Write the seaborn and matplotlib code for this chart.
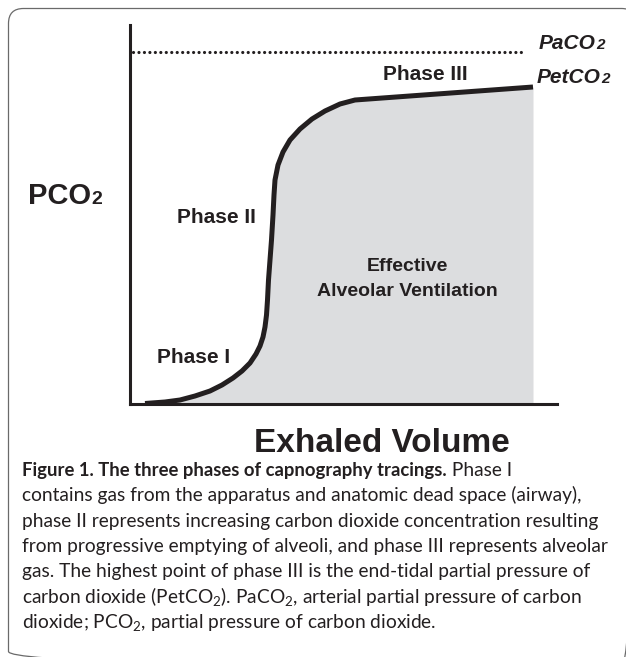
import matplotlib
matplotlib.use("Agg")
import matplotlib.pyplot as plt
import seaborn as sns
import pandas as pd
from matplotlib.patches import FancyBboxPatch

# 呼气容积 (任意单位) 与 PCO2 (任意单位)
volume = [15, 35, 50, 65, 80, 92, 103, 112, 120, 126, 130, 133, 135, 136.5, 137.5,
          138.5, 140, 141.5, 143, 144, 145, 148, 153, 160, 170, 182, 195, 210, 225, 403]
pco2 = [0.5, 2, 4, 8, 13, 19, 26, 33, 41, 50, 58, 67, 77, 89, 104,
        124, 144, 164, 189, 209, 224, 239, 252, 264, 275, 285, 293, 300, 304, 317]

# 动脉血二氧化碳分压水平 (虚线)
paco2_volume = [3, 396]
paco2_level = [352, 352]

caption_lines = [
    "contains gas from the apparatus and anatomic dead space (airway),",
    "phase II represents increasing carbon dioxide concentration resulting",
    "from progressive emptying of alveoli, and phase III represents alveolar",
    "gas. The highest point of phase III is the end-tidal partial pressure of",
    "carbon dioxide (PetCO$_2$). PaCO$_2$, arterial partial pressure of carbon",
    "dioxide; PCO$_2$, partial pressure of carbon dioxide.",
]

sns.set_style("white")
plt.rcParams['font.family'] = ['Liberation Sans', 'DejaVu Sans']
plt.rcParams['mathtext.fontset'] = 'custom'
plt.rcParams['mathtext.rm'] = 'Lato'
plt.rcParams['mathtext.it'] = 'Lato:italic'
plt.rcParams['mathtext.bf'] = 'Lato:bold'

ink = '#231f20'
fig = plt.figure(figsize=(6.26, 6.57), dpi=100)

# 背景坐标系 (像素坐标)
bg = fig.add_axes([0, 0, 1, 1])
bg.set_xlim(0, 626)
bg.set_ylim(657, 0)
bg.axis('off')
bg.add_patch(FancyBboxPatch((8.5, 8.5), 628, 658, boxstyle='round,pad=0,rounding_size=15',
                            fill=False, ec='#6a6a6a', lw=0.9, clip_on=True))

# 主图
ax = fig.add_axes([130 / 626, (657 - 404) / 657, 427 / 626, 379 / 657])
ax.patch.set_alpha(0)
ax.set_xlim(0, 427)
ax.set_ylim(0, 379)
df = pd.DataFrame({'volume': volume, 'pco2': pco2})
ax.fill_between(df['volume'], df['pco2'], 0, color='#dcdddf', lw=0, zorder=1)
sns.lineplot(data=df, x='volume', y='pco2', sort=False, ax=ax, color=ink, lw=3.6,
             solid_capstyle='butt', zorder=3)
sns.lineplot(x=paco2_volume, y=paco2_level, ax=ax, color=ink, lw=2.3,
             linestyle=(0, (0.01, 1.7)), dash_capstyle='round', zorder=3)
for s in ['top', 'right']:
    ax.spines[s].set_visible(False)
for s in ['left', 'bottom']:
    ax.spines[s].set_linewidth(2.2)
    ax.spines[s].set_color(ink)
ax.set_xticks([])
ax.set_yticks([])
ax.set_xlabel('')
ax.set_ylabel('')

bold = dict(fontweight='bold', color=ink)
ax.text(253, 324, 'Phase III', fontsize=15, **bold)
ax.text(47, 181, 'Phase II', fontsize=15, **bold)
ax.text(27, 41, 'Phase I', fontsize=15, **bold)
ax.text(277, 133, 'Effective', fontsize=14, ha='center', **bold)
ax.text(277, 108, 'Alveolar Ventilation', fontsize=14, ha='center', **bold)

t = ax.text(409, 355, 'PaCO', fontsize=15, style='italic', **bold)
ax.annotate('2', xy=(1, 355), xycoords=(t, 'data'), fontsize=11, style='italic',
            va='baseline', **bold)
t = ax.text(407, 321, 'PetCO', fontsize=15, style='italic', **bold)
ax.annotate('2', xy=(1, 321), xycoords=(t, 'data'), fontsize=11, style='italic',
            va='baseline', **bold)

# 坐标轴标题
t = bg.text(28, 204, 'PCO', fontsize=21, va='baseline', **bold)
bg.annotate('2', xy=(1, 204), xycoords=(t, 'data'), fontsize=14, va='baseline', **bold)
bg.text(382, 452, 'Exhaled Volume', fontsize=24, ha='center', va='baseline', **bold)

# 图注
cap_kw = dict(color=ink, family=['Lato', 'DejaVu Sans'], va='baseline')
base = 476
step = 25.3
t = bg.text(22, base, 'Figure 1. The three phases of capnography tracings.',
            fontweight='bold', fontsize=13.3, **cap_kw)
bg.annotate(' Phase I', xy=(1, base), xycoords=(t, 'data'), fontsize=13.8, **cap_kw)
for i, line in enumerate(caption_lines):
    bg.text(22, base + step * (i + 1), line, fontsize=13.8, **cap_kw)

fig.savefig('out.png', dpi=100)
